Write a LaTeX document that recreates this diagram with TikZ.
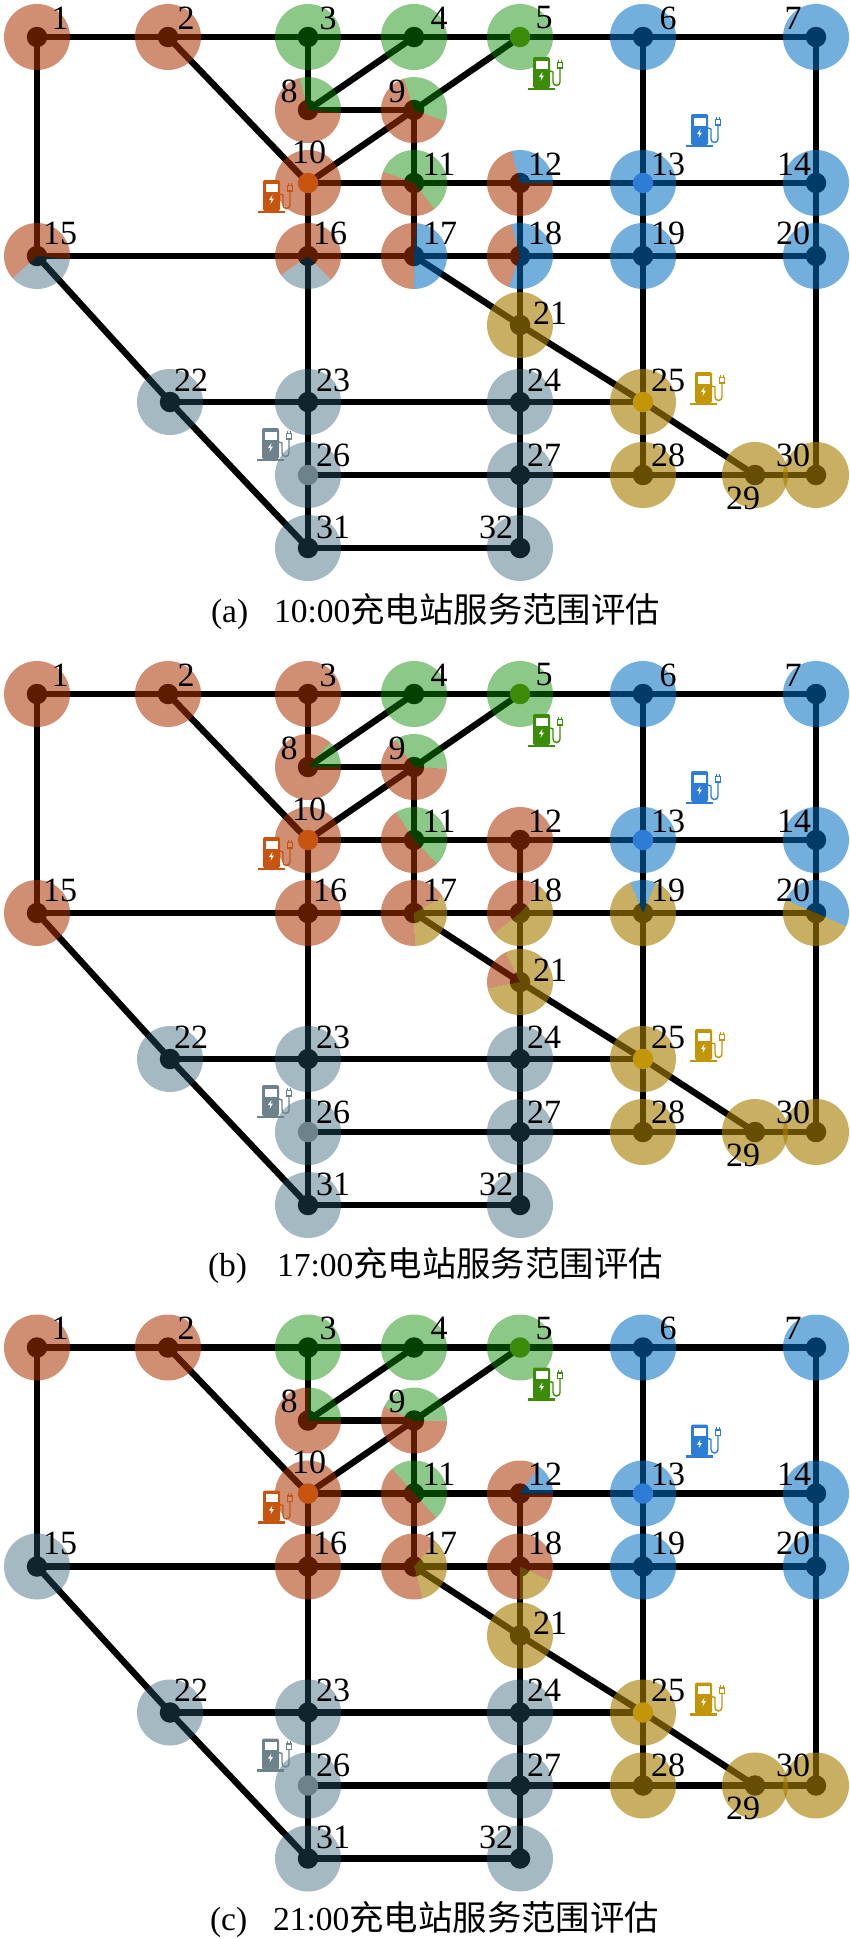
\documentclass[tikz,border=0pt]{standalone}
\usepackage{fontspec}
\setmainfont{Liberation Serif}
\newfontfamily\cjk{Noto Sans CJK SC}
\definecolor{stO}{RGB}{200,85,15}
\definecolor{stG}{RGB}{60,140,10}
\definecolor{stB}{RGB}{45,125,215}
\definecolor{stY}{RGB}{195,150,10}
\definecolor{stK}{RGB}{110,130,140}
\definecolor{ovO}{RGB}{170,51,0}
\definecolor{ovG}{RGB}{10,138,0}
\definecolor{ovB}{RGB}{0,109,191}
\definecolor{ovY}{RGB}{166,126,0}
\definecolor{ovK}{RGB}{40,88,112}
\tikzset{
  pO/.style={fill=ovO,fill opacity=.55},
  pG/.style={fill=ovG,fill opacity=.47},
  pB/.style={fill=ovB,fill opacity=.55},
  pY/.style={fill=ovY,fill opacity=.62},
  pK/.style={fill=ovK,fill opacity=.42},
  dotnode/.style={circle,fill=black,minimum size=20.5pt,inner sep=0pt,outer sep=0pt},
  stnode/.style={circle,fill=#1,minimum size=20.5pt,inner sep=0pt,outer sep=0pt},
  edgeline/.style={draw=black,line width=6.4pt},
  lab/.style={inner sep=0pt,outer sep=0pt,font=\fontsize{34}{34}\selectfont},
  captext/.style={inner sep=0pt,outer sep=0pt,anchor=base west,font=\fontsize{33.5}{33.5}\selectfont}
}
\newcommand\mydisc[2]{\path[#2] (\curp-#1) circle[radius=33];}
\newcommand\mypie[4]{\path[#2] (\curp-#1) -- ++(#3:33) arc[start angle=#3,end angle=#4,radius=33] -- cycle;}
\newcommand\myicon[4]{%
  \begin{scope}[shift={(#1,{-#2-\curoff})}]
    \fill[#3,rounded corners=2pt] (5,-31) -- (5,0) -- (22,0) -- (22,-31) -- cycle;
    \fill[#3] (0,-30.5) rectangle (27,-33);
    \fill[white] (7.5,-3.5) rectangle (19.5,-11.5);
    \fill[white] (14.5,-15) -- (11,-20) -- (13.5,-20) -- (12.5,-24) -- (16,-18.5) -- (13.5,-18.5) -- cycle;
    \draw[#3,line width=1.4pt] (22,-14) -- (25,-15) -- (25,-25) arc[start angle=180,end angle=360,radius=3.5] -- (32,-11);
    \draw[#3,line width=1.4pt] (29.5,-5.5) rectangle (34.5,-11);
    \draw[#3,line width=1.2pt] (30.5,-5.5) -- (30.5,-2.5) (33.5,-5.5) -- (33.5,-2.5);
  \end{scope}}
\newcommand\panel[4]{%
  \def\curp{#1}\def\curoff{#2}%
  \foreach \n/\x/\y in {1/37/37,2/168/37,3/308/37,4/414/37,5/520/37,6/643/37,7/816/37,
    8/308/110,9/414/110,10/308/183,11/414/183,12/520/183,13/643/183,14/816/183,
    15/37/256,16/308/256,17/414/256,18/520/256,19/643/256,20/816/256,21/520/325,
    22/170/402,23/308/402,24/520/402,25/643/402,26/308/475,27/520/475,28/643/475,
    29/755/475,30/816/475,31/308/548,32/520/548}
    {\coordinate (#1-\n) at (\x,{-\y-#2});}
  \foreach \n in {1,2,3,4,6,7,8,9,11,12,14,15,16,17,18,19,20,21,22,23,24,27,28,29,30,31,32}
    {\node[dotnode] (#1-d\n) at (#1-\n) {};}
  \foreach \p/\q in {1/2,2/3,3/4,4/5,5/6,6/7,1/15,2/10,3/8,8/4,8/9,9/5,9/10,9/11,10/11,11/12,12/13,13/14,
    6/13,7/14,13/19,14/20,10/16,15/16,16/17,17/18,18/19,19/20,11/17,12/18,18/21,17/21,21/25,21/24,19/25,20/30,
    15/22,22/23,23/24,24/25,16/23,23/26,22/31,26/31,26/27,27/28,28/29,29/30,25/28,25/29,24/27,27/32,31/32}
    {\draw[edgeline] (#1-\p) -- (#1-\q);}
  #3
  \node[stnode=stO] (#1-s10) at (#1-10) {};
  \node[stnode=stG] (#1-s5) at (#1-5) {};
  \node[stnode=stB] (#1-s13) at (#1-13) {};
  \node[stnode=stY] (#1-s25) at (#1-25) {};
  \node[stnode=stK] (#1-s26) at (#1-26) {};
  \myicon{258}{180}{stO}{}
  \myicon{528}{57}{stG}{}
  \myicon{686}{114}{stB}{}
  \myicon{690}{372}{stY}{}
  \myicon{257}{428}{stK}{}
  \foreach \n/\x/\y in {1/60/18,2/186/18,3/328/18,4/439/18,5/544/18,6/668/18,7/793/18,
    8/289/91,9/397/91,10/309/152,11/439/164,12/545/164,13/668/164,14/794/164,
    15/60/233,16/330/233,17/440/233,18/545/233,19/668/233,20/793/233,21/550/313,
    22/191/380,23/333/380,24/544/380,25/668/380,26/333/455,27/544/455,28/668/455,
    29/743/498,30/793/455,31/333/527,32/496/527}
    {\node[lab] (#1-l\n) at (\x,{-\y-#2}) {\n};}
  #4}
\begin{document}
\begin{tikzpicture}[x=1pt,y=1pt]
\useasboundingbox (0,0) rectangle (849,-1939);
\panel{a}{0}{%
  \foreach \n/\s in {1/pO,2/pO,3/pG,4/pG,5/pG,6/pB,7/pB,10/pO,13/pB,14/pB,19/pB,20/pB,21/pY,
    22/pK,23/pK,24/pK,25/pY,26/pK,27/pK,28/pY,29/pY,30/pY,31/pK,32/pK}{\mydisc{\n}{\s}}
  \mypie{8}{pG}{-5}{105}\mypie{8}{pO}{105}{355}
  \mypie{9}{pG}{-20}{108}\mypie{9}{pO}{108}{340}
  \mypie{11}{pG}{-52}{160}\mypie{11}{pO}{160}{308}
  \mypie{12}{pB}{0}{105}\mypie{12}{pO}{105}{360}
  \mypie{15}{pK}{222}{355}\mypie{15}{pO}{-5}{222}
  \mypie{16}{pK}{215}{315}\mypie{16}{pO}{-45}{215}
  \mypie{17}{pB}{-90}{85}\mypie{17}{pO}{85}{270}
  \mypie{18}{pB}{-110}{105}\mypie{18}{pO}{105}{250}
}{\node[captext] (a-cap) at (211,-622) {(a)\hspace{26pt}10:00{\cjk\fontsize{34.4}{34.4}\selectfont 充电站服务范围评估}};}
\panel{b}{657}{%
  \foreach \n/\s in {1/pO,2/pO,3/pO,4/pG,5/pG,6/pB,7/pB,10/pO,12/pO,13/pB,14/pB,15/pO,16/pO,
    22/pK,23/pK,24/pK,25/pY,26/pK,27/pK,28/pY,29/pY,30/pY,31/pK,32/pK}{\mydisc{\n}{\s}}
  \mypie{8}{pG}{0}{48}\mypie{8}{pO}{48}{360}
  \mypie{9}{pG}{-3}{125}\mypie{9}{pO}{125}{357}
  \mypie{11}{pG}{-46}{123}\mypie{11}{pO}{123}{314}
  \mypie{17}{pY}{-88}{30}\mypie{17}{pO}{30}{272}
  \mypie{18}{pY}{218}{408}\mypie{18}{pO}{48}{218}
  \mypie{19}{pB}{67}{113}\mypie{19}{pY}{113}{427}
  \mypie{20}{pB}{-24}{157}\mypie{20}{pY}{157}{336}
  \mypie{21}{pO}{116}{192}\mypie{21}{pY}{192}{476}
}{\node[captext] (b-cap) at (208,-1276) {(b)\hspace{30pt}17:00{\cjk\fontsize{34.4}{34.4}\selectfont 充电站服务范围评估}};}
\panel{c}{1310.5}{%
  \foreach \n/\s in {1/pO,2/pO,3/pG,4/pG,5/pG,6/pB,7/pB,10/pO,13/pB,14/pB,15/pK,16/pO,19/pB,20/pB,21/pY,
    22/pK,23/pK,24/pK,25/pY,26/pK,27/pK,28/pY,29/pY,30/pY,31/pK,32/pK}{\mydisc{\n}{\s}}
  \mypie{8}{pG}{0}{88}\mypie{8}{pO}{88}{360}
  \mypie{9}{pG}{0}{155}\mypie{9}{pO}{155}{360}
  \mypie{11}{pG}{-48}{132}\mypie{11}{pO}{132}{312}
  \mypie{12}{pB}{0}{55}\mypie{12}{pO}{55}{360}
  \mypie{17}{pY}{-75}{50}\mypie{17}{pO}{50}{285}
  \mypie{18}{pY}{-90}{-25}\mypie{18}{pO}{-25}{270}
}{\node[captext] (c-cap) at (210,-1930) {(c)\hspace{26pt}21:00{\cjk\fontsize{34.4}{34.4}\selectfont 充电站服务范围评估}};}
\end{tikzpicture}
\end{document}
